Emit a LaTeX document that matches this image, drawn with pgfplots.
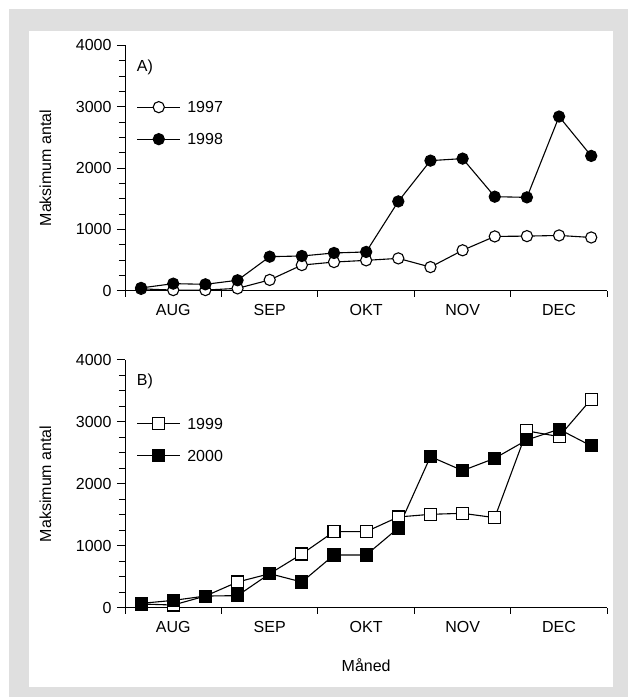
\documentclass[border=0pt]{standalone}
\usepackage{pgfplots}
\pgfplotsset{compat=1.18}
\usepackage{fontspec}
\setmainfont{Liberation Sans}
\definecolor{framegray}{RGB}{223,223,223}

\pgfplotsset{
  panel/.style={
    scale only axis, width=482.3pt, clip=false,
    xmin=0.5, xmax=15.5, ymin=0, ymax=4000,
    axis lines*=left,
    axis line style={line width=1pt, black},
    tick align=outside,
    xtick={2,5,8,11,14}, xticklabels={AUG,SEP,OKT,NOV,DEC},
    minor xtick={0.5,3.5,6.5,9.5,12.5,15.5},
    every major x tick/.append style={draw=none},
    ytick={0,1000,2000,3000,4000}, minor y tick num=3,
    major tick length=8pt, minor tick length=6pt,
    tick style={line width=1pt, black},
    /pgf/number format/assume math mode=true,
    /pgf/number format/1000 sep={},
    ylabel={Maksimum antal},
    every axis y label/.style={at={(axis description cs:-0.165,0.5)}, rotate=90, anchor=center},
    legend image code/.code={%
      \draw[mark repeat=2,mark phase=2] plot coordinates {(0pt,0pt) (21.3pt,0pt) (42.6pt,0pt)};},
    legend cell align=left,
    legend style={draw=none, fill=none, inner sep=0pt, anchor=north west,
      row sep=20.5pt, column sep=6.7pt,
      nodes={inner sep=0pt, text height=11.5pt, text depth=0pt}},
  },
  series/.style={black, line width=1.1pt, mark options={line width=1.1pt, solid}},
  opencirc/.style={series, mark=*, mark size=5.6pt, mark options={fill=white}},
  fullcirc/.style={series, mark=*, mark size=5.6pt, mark options={fill=black}},
  opensq/.style={series, mark=square*, mark size=6pt, mark options={fill=white}},
  fullsq/.style={series, mark=square*, mark size=6pt, mark options={fill=black}},
}

\begin{document}
\fontsize{16pt}{19pt}\selectfont
\begin{tikzpicture}[x=1pt,y=1pt]
\useasboundingbox (0,0) rectangle (628,697);
\fill[framegray] (9,0) rectangle (628,688);
\fill[white] (29,10) rectangle (613,666);

% Panel A: 1997 and 1998
\begin{axis}[panel, at={(125pt,406.3pt)}, anchor=south west, height=245.3pt,
  legend style={at={(rel axis cs:0.0243,0.7725)}}]
\addplot[opencirc] coordinates {
  (1,30) (2,10) (3,10) (4,38) (5,176) (6,418) (7,467) (8,495)
  (9,527) (10,385) (11,659) (12,885) (13,890) (14,901) (15,868)};
\addlegendentry{1997}
\addplot[fullcirc] coordinates {
  (1,45) (2,115) (3,104) (4,170) (5,555) (6,566) (7,615) (8,632)
  (9,1456) (10,2121) (11,2154) (12,1533) (13,1522) (14,2840) (15,2198)};
\addlegendentry{1998}
\node[anchor=west, inner sep=0pt] at (rel axis cs:0.0243,0.909) {A)};
\end{axis}

% Panel B: 1999 and 2000
\begin{axis}[panel, at={(125pt,89.3pt)}, anchor=south west, height=247.7pt,
  legend style={at={(rel axis cs:0.0243,0.7695)}},
  xlabel={Måned},
  every axis x label/.style={at={(axis description cs:0.5,0)}, yshift=-57pt, anchor=center}]
\addplot[opensq] coordinates {
  (1,60) (2,43) (3,188) (4,415) (5,549) (6,867) (7,1228) (8,1228)
  (9,1465) (10,1508) (11,1524) (12,1454) (13,2855) (14,2763) (15,3366)};
\addlegendentry{1999}
\addplot[fullsq] coordinates {
  (1,70) (2,118) (3,188) (4,195) (5,549) (6,415) (7,851) (8,851)
  (9,1287) (10,2440) (11,2214) (12,2413) (13,2709) (14,2882) (15,2613)};
\addlegendentry{2000}
\node[anchor=west, inner sep=0pt] at (rel axis cs:0.0243,0.912) {B)};
\end{axis}
\end{tikzpicture}
\end{document}
